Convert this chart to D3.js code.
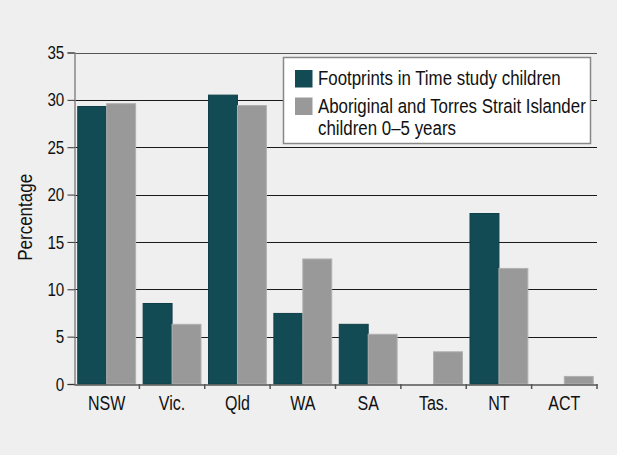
<!DOCTYPE html>
<html>
<head>
<meta charset="utf-8">
<script src="https://cdn.jsdelivr.net/npm/d3@7"></script>
<style>
  body { margin: 0; background: #efefef; }
  svg { display: block; }
  text { font-family: "Liberation Sans", Arial, sans-serif; fill: #111; }
</style>
</head>
<body>
<div id="chart"></div>
<script>
var states = ["NSW", "Vic.", "Qld", "WA", "SA", "Tas.", "NT", "ACT"];
var footprints = [29.3, 8.5, 30.5, 7.45, 6.3, 0, 18.0, 0];
var aboriginal = [29.6, 6.3, 29.4, 13.2, 5.25, 3.4, 12.2, 0.8];
var yTicks = [0, 5, 10, 15, 20, 25, 30, 35];
var seriesNames = ["Footprints in Time study children", "Aboriginal and Torres Strait Islander|children 0\u20135 years"];
var colors = ["#134b55", "#999999"];

var width = 617, height = 455;
var left = 74, right = 597;
var squeeze = 0.8; // the original font is a condensed face

var svg = d3.select("#chart").append("svg")
  .attr("width", width)
  .attr("height", height);

svg.append("rect").attr("width", width).attr("height", height).attr("fill", "#efefef");

var x = d3.scaleBand()
  .domain(states)
  .range([left, right]);

var x1 = d3.scaleBand()
  .domain([0, 1])
  .range([0, x.bandwidth()])
  .paddingOuter(0.13)
  .paddingInner(0);

var y = d3.scaleLinear()
  .domain([0, 35])
  .range([384, 52.5]);

// gridlines
svg.append("g").selectAll("line")
  .data(yTicks.filter(function (d) { return d > 0; }))
  .enter().append("line")
  .attr("x1", left)
  .attr("x2", right)
  .attr("y1", function (d) { return Math.round(y(d)) + 0.5; })
  .attr("y2", function (d) { return Math.round(y(d)) + 0.5; })
  .attr("stroke", function (d) { return d == 35 ? "#555" : "#1a1a1a"; })
  .attr("stroke-width", 1.2);

// bars
var data = states.map(function (s, i) {
  return {state: s, values: [footprints[i], aboriginal[i]]};
});

var group = svg.append("g").selectAll("g")
  .data(data)
  .enter().append("g")
  .attr("transform", function (d) { return "translate(" + x(d.state) + ",0)"; });

group.selectAll("rect")
  .data(function (d) { return d.values.map(function (v, k) { return {k: k, v: v}; }); })
  .enter().append("rect")
  .filter(function (d) { return d.v > 0; })
  .attr("x", function (d) { return x1(d.k); })
  .attr("width", x1.bandwidth())
  .attr("y", function (d) { return y(d.v); })
  .attr("height", function (d) { return y(0) - y(d.v); })
  .attr("fill", function (d) { return colors[d.k]; })
  .attr("stroke", function (d) { return d.k == 0 ? "#0f3f48" : "#b0b0b0"; })
  .attr("stroke-width", 1);

// y axis
var yAxis = svg.append("g")
  .attr("transform", "translate(" + (left + 0.5) + ",0)")
  .call(d3.axisLeft(y).tickValues(yTicks).tickSize(7).tickPadding(3));
yAxis.select(".domain").attr("stroke", "#888").attr("stroke-width", 1.5);
yAxis.selectAll(".tick line").attr("stroke", "#333");
yAxis.selectAll("text")
  .attr("font-size", 19)
  .attr("fill", "#111")
  .style("font-family", "\"Liberation Sans\", Arial, sans-serif")
  .attr("transform", "translate(-11,0) scale(" + squeeze + ",1) translate(11,0)");

// x axis
var xAxis = svg.append("g")
  .attr("transform", "translate(0," + (y(0) + 0.5) + ")")
  .call(d3.axisBottom(x).tickSize(0).tickPadding(11));
xAxis.select(".domain").attr("stroke", "#555").attr("stroke-width", 1.5);
xAxis.selectAll("text")
  .attr("font-size", 20)
  .attr("fill", "#111")
  .style("font-family", "\"Liberation Sans\", Arial, sans-serif")
  .attr("transform", "scale(" + squeeze + ",1)");

// boundary ticks between categories
svg.append("g").selectAll("line")
  .data(states)
  .enter().append("line")
  .attr("x1", function (d) { return x(d) + x.bandwidth(); })
  .attr("x2", function (d) { return x(d) + x.bandwidth(); })
  .attr("y1", y(0))
  .attr("y2", y(0) + 5)
  .attr("stroke", "#555")
  .attr("stroke-width", 1.5);

// y label
svg.append("text")
  .attr("transform", "translate(32," + y(17.6) + ") rotate(-90) scale(0.85,1)")
  .attr("text-anchor", "middle")
  .attr("font-size", 20)
  .text("Percentage");

// legend
var legend = svg.append("g");
legend.append("rect")
  .attr("x", 283.5).attr("y", 57.5)
  .attr("width", 307).attr("height", 86)
  .attr("fill", "#fff")
  .attr("stroke", "#888")
  .attr("stroke-width", 1.5);

var swatchY = [70, 97.5];
var lineWidths = [[243], [268, 138]];
seriesNames.forEach(function (name, i) {
  legend.append("rect")
    .attr("x", 295).attr("y", swatchY[i])
    .attr("width", 17.5).attr("height", 17.5)
    .attr("fill", colors[i]);
  name.split("|").forEach(function (line, j) {
    var t = legend.append("text")
      .attr("x", 0)
      .attr("y", 0)
      .attr("font-size", 19.5)
      .text(line);
    // squeeze each line to the width it has in the original
    var k = lineWidths[i][j] / t.node().getComputedTextLength();
    t.attr("transform", "translate(318," + (swatchY[i] + 15 + j * 22) + ") scale(" + k + ",1)");
  });
});
</script>
</body>
</html>
